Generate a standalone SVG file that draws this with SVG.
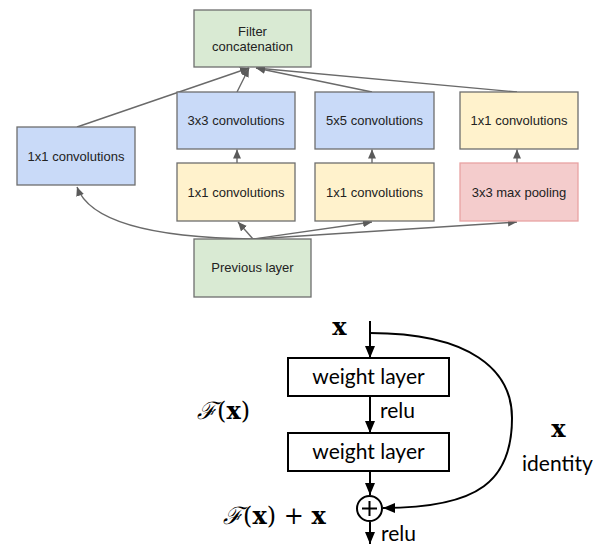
<svg xmlns="http://www.w3.org/2000/svg" width="604" height="544" viewBox="0 0 604 544">
<defs>
<style>
.box{stroke:#6e6e6e;stroke-width:1.3}
.green{fill:#d9ead3}
.blue{fill:#c9daf8}
.yellow{fill:#fff2cc}
.pink{fill:#f4cccc;stroke:#e8a3a3}
.t{font-family:"Liberation Sans",Arial,sans-serif;font-size:13px;fill:#222;text-anchor:middle}
.g{fill:none;stroke:#6a6a6a;stroke-width:1.4}
.k{fill:none;stroke:#000;stroke-width:2}
.wl{fill:#fff;stroke:#000;stroke-width:2}
.c{font-family:Lato,"Open Sans",sans-serif;font-size:21px;fill:#000}
.m{font-family:"DejaVu Serif","Liberation Serif",serif;font-size:24px;fill:#000}
</style>
<marker id="ga" markerUnits="userSpaceOnUse" markerWidth="10" markerHeight="9" refX="9" refY="4" orient="auto">
<path d="M0,0 L9,4 L0,8 z" fill="#5a5a5a"/>
</marker>
<marker id="ka" markerUnits="userSpaceOnUse" markerWidth="13" markerHeight="11" refX="12" refY="5" orient="auto">
<path d="M0,0 L12,5 L0,10 z" fill="#000"/>
</marker>
</defs>
<rect width="604" height="544" fill="#fff"/>

<g id="connectors">
<path class="g" d="M77,127 L249,68" marker-end="url(#ga)"/>
<path class="g" d="M237,92 L249,68" marker-end="url(#ga)"/>
<path class="g" d="M372,92 L256,68" marker-end="url(#ga)"/>
<path class="g" d="M517,92 L256,68" marker-end="url(#ga)"/>
<path class="g" d="M237,163 L237,149.5" marker-end="url(#ga)"/>
<path class="g" d="M372,163 L372,149.5" marker-end="url(#ga)"/>
<path class="g" d="M517,163 L517,149.5" marker-end="url(#ga)"/>
<path class="g" d="M253,239 Q95,237 77,187" marker-end="url(#ga)"/>
<path class="g" d="M253,239 L238,222" marker-end="url(#ga)"/>
<path class="g" d="M253,239 L372,222" marker-end="url(#ga)"/>
<path class="g" d="M253,239 L517,222" marker-end="url(#ga)"/>

<path class="k" d="M370,321 L370,358" marker-end="url(#ka)"/>
<path class="k" d="M370,396 L370,433" marker-end="url(#ka)"/>
<path class="k" d="M370,471 L370,495" marker-end="url(#ka)"/>
<path class="k" d="M370,522 L370,544" marker-end="url(#ka)"/>
<path class="k" d="M370,333 C470,333 512,370 512,418 C512,480 480,508 383,508" marker-end="url(#ka)"/>
</g>

<g id="filter-concat">
<rect class="box green" x="194" y="10" width="117" height="57"/>
<text class="t" x="252.5" y="36">Filter</text>
<text class="t" x="252.5" y="51">concatenation</text>
</g>
<g id="conv1x1-left">
<rect class="box blue" x="17" y="127" width="118" height="58"/>
<text class="t" x="76" y="161">1x1 convolutions</text>
</g>
<g id="conv3x3">
<rect class="box blue" x="177" y="92" width="118" height="57"/>
<text class="t" x="236" y="125">3x3 convolutions</text>
</g>
<g id="conv5x5">
<rect class="box blue" x="315" y="92" width="119" height="57"/>
<text class="t" x="374.5" y="125">5x5 convolutions</text>
</g>
<g id="conv1x1-right">
<rect class="box yellow" x="460" y="92" width="118" height="57"/>
<text class="t" x="519" y="125">1x1 convolutions</text>
</g>
<g id="reduce1">
<rect class="box yellow" x="177" y="163" width="118" height="58"/>
<text class="t" x="236" y="197">1x1 convolutions</text>
</g>
<g id="reduce2">
<rect class="box yellow" x="315" y="163" width="119" height="58"/>
<text class="t" x="374.5" y="197">1x1 convolutions</text>
</g>
<g id="maxpool">
<rect class="box pink" x="460" y="163" width="118" height="58"/>
<text class="t" x="519" y="197">3x3 max pooling</text>
</g>
<g id="previous-layer">
<rect class="box green" x="194" y="239" width="117" height="58"/>
<text class="t" x="252.5" y="272">Previous layer</text>
</g>

<g id="input-x">
<text class="m" x="339.5" y="335" font-weight="bold" text-anchor="middle">x</text>
</g>
<g id="weight1">
<rect class="wl" x="288" y="358" width="161" height="38"/>
<text class="c" x="368.5" y="384" text-anchor="middle">weight layer</text>
</g>
<text class="c" x="380" y="418">relu</text>
<g id="weight2">
<rect class="wl" x="288" y="433" width="161" height="38"/>
<text class="c" x="368.5" y="459" text-anchor="middle">weight layer</text>
</g>
<g id="sum">
<circle cx="369.5" cy="508.5" r="12.5" fill="#fff" stroke="#000" stroke-width="2"/>
<path d="M362,508.5 H377 M369.5,501 V516" stroke="#000" stroke-width="2"/>
</g>
<text class="c" x="381" y="541">relu</text>
<text class="m" x="197" y="419"><tspan font-style="italic">ℱ</tspan>(<tspan font-weight="bold">x</tspan>)</text>
<text class="m" x="223" y="524"><tspan font-style="italic">ℱ</tspan>(<tspan font-weight="bold">x</tspan>) + <tspan font-weight="bold">x</tspan></text>
<text class="m" x="558.5" y="437" font-weight="bold" text-anchor="middle">x</text>
<text class="c" x="522" y="471">identity</text>
</svg>
